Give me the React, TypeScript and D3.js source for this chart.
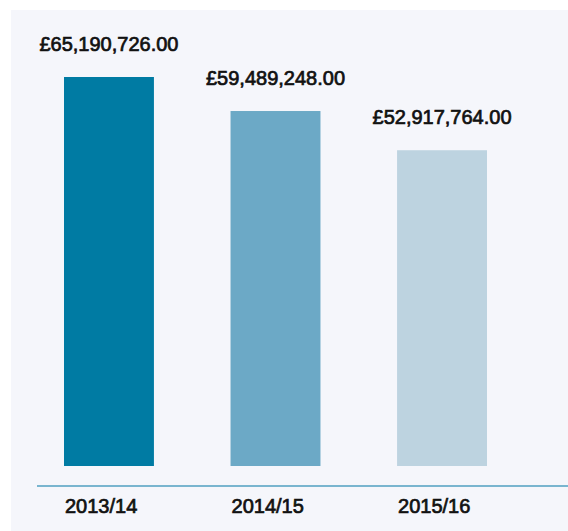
import React from "react"
import * as d3 from "d3"

const years = ["2013/14", "2014/15", "2015/16"]
const spend = [65190726, 59489248, 52917764]
const colours = ["#007ba3", "#6ca9c6", "#bdd3e0"]

const width = 568
const height = 531

const App = () => {
  const x = d3
    .scaleBand()
    .domain(years)
    .range([64, 487])
    .paddingInner(0.46)
    .paddingOuter(0)
  const y = d3.scaleLinear().domain([0, d3.max(spend)]).range([466, 77])
  const fmt = d => "£" + d3.format(",.2f")(d)
  // medium weight: regular face with a thin outline
  const font = {
    fontFamily: "'Liberation Sans', Arial, sans-serif",
    fontWeight: 400,
    fontSize: 20,
    stroke: "#111",
    strokeWidth: 0.7,
  }

  return (
    <svg
      width={width}
      height={height}
      style={{ position: "absolute", left: 0, top: 0, display: "block" }}
    >
      <rect x={11} y={10} width={width - 11} height={height - 10} fill="#f5f6fb" />
      {years.map((yr, i) => (
        <g key={yr}>
          <rect
            x={x(yr)}
            y={y(spend[i])}
            width={x.bandwidth()}
            height={y(0) - y(spend[i])}
            fill={colours[i]}
          />
          <text
            x={x(yr) + x.bandwidth() / 2}
            y={y(spend[i]) - 26}
            textAnchor="middle"
            fill="#111"
            style={font}
          >
            {fmt(spend[i])}
          </text>
          <text x={x(yr) + 1} y={513} fill="#111" style={font}>
            {yr}
          </text>
        </g>
      ))}
      <line x1={37} x2={width} y1={486} y2={486} stroke="#79b5cf" strokeWidth={2} />
    </svg>
  )
}

export default App
